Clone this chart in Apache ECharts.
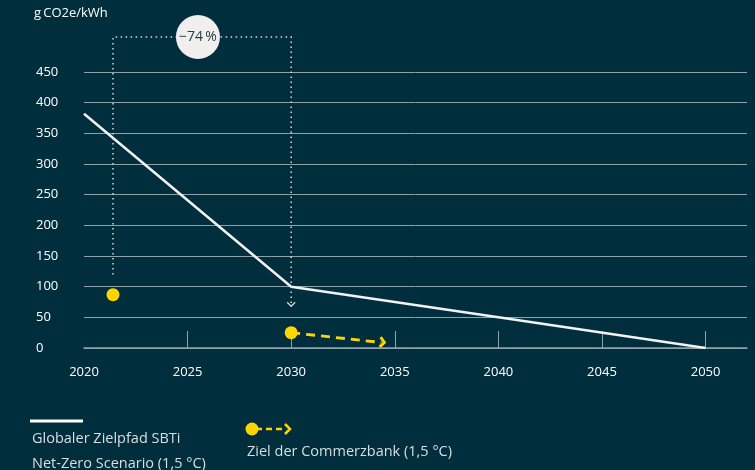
<!DOCTYPE html>
<html>
<head>
<meta charset="utf-8">
<script src="https://cdn.jsdelivr.net/npm/echarts@6/dist/echarts.min.js"></script>
<style>
html,body{margin:0;padding:0;background:#012e3d;}
#c{width:755px;height:470px;}
</style>
</head>
<body>
<div id="c"></div>
<script>
// ---- data ----
const pathYears = [2020, 2030, 2040, 2050];
const sbtiPath = [382, 100, 50, 0];
const targetYears = [2021.4, 2030];
const cbTargets = [87, 25];
const trendYears = [2030, 2034.5];
const trendValues = [25, 9];
const bracketYears = [2021.4, 2030];
const bracketBottom = [120, 68];
const bracketTop = 507;
const reductionYear = 2025.5;
const reductionLabel = '−74\u2009%';
const xLabelYears = [2020, 2025, 2030, 2035, 2040, 2045, 2050];
const xTickYears = [2025, 2030, 2035, 2040, 2045, 2050];
const unitLabel = 'g\u2009CO2e/kWh';
const legendLine1 = ['Globaler Zielpfad SBTi', 'Net-Zero Scenario (1,5 °C)'];
const legendLine2 = 'Ziel der Commerzbank (1,5 °C)';

const FONT = 'Open Sans';
const GRID = '#8fa2a9';
const YELLOW = '#ffd500';
const LEG = '#d9dfe1';

const chart = echarts.init(document.getElementById('c'), null, {renderer: 'canvas'});

const option = {
  backgroundColor: '#012e3d',
  animation: false,
  textStyle: {fontFamily: FONT},
  grid: {left: 84, right: 8, top: 72, bottom: 122},
  xAxis: {
    type: 'value', min: 2020, max: 2052, interval: 5,
    axisLine: {show: true, lineStyle: {color: GRID, width: 1.5}},
    axisTick: {show: true, inside: true, length: 17, customValues: xTickYears, lineStyle: {color: GRID, width: 1}},
    axisLabel: {customValues: xLabelYears, color: '#ffffff', fontSize: 13, margin: 18, fontFamily: FONT,
      formatter: function (v) { return String(v); }},
    splitLine: {show: false}
  },
  yAxis: {
    type: 'value', min: 0, max: 450, interval: 50,
    axisLine: {show: false}, axisTick: {show: false},
    axisLabel: {color: '#ffffff', fontSize: 13, align: 'left', margin: 48, fontFamily: FONT},
    splitLine: {show: true, lineStyle: {color: GRID, width: 1}}
  },
  graphic: [
    {type: 'text', left: 34, top: 7, style: {text: unitLabel, fill: '#ffffff', font: '13px "' + FONT + '"'}},
    {type: 'line', shape: {x1: 30, y1: 421, x2: 83, y2: 421}, style: {stroke: '#ffffff', lineWidth: 3}},
    {type: 'text', left: 32, top: 431, style: {text: legendLine1[0], fill: LEG, font: '14.5px "' + FONT + '"'}},
    {type: 'text', left: 32, top: 456, style: {text: legendLine1[1], fill: LEG, font: '14.5px "' + FONT + '"'}},
    {type: 'circle', shape: {cx: 252, cy: 429, r: 6.5}, style: {fill: YELLOW}},
    {type: 'line', shape: {x1: 256, y1: 429, x2: 283, y2: 429}, style: {stroke: YELLOW, lineWidth: 2.5, lineDash: [6, 4]}},
    {type: 'polyline', shape: {points: [[285, 424], [290, 429], [285, 434]]}, style: {stroke: YELLOW, lineWidth: 2.5, fill: null}},
    {type: 'text', left: 247, top: 444, style: {text: legendLine2, fill: LEG, font: '14.5px "' + FONT + '"'}}
  ],
  series: [
    {
      type: 'line', name: 'SBTi',
      data: pathYears.map((y, i) => [y, sbtiPath[i]]),
      symbol: 'none',
      lineStyle: {color: '#f2f2f2', width: 2.5},
      z: 3
    },
    {
      type: 'custom', name: 'trend',
      data: [[trendYears[0], trendValues[0]]],
      z: 4,
      renderItem: function (params, api) {
        const a = api.coord([trendYears[0], trendValues[0]]);
        const b = api.coord([trendYears[1], trendValues[1]]);
        const ang = Math.atan2(b[1] - a[1], b[0] - a[0]);
        const L = 6.5;
        const p1 = [b[0] - L * Math.cos(ang - 0.85), b[1] - L * Math.sin(ang - 0.85)];
        const p2 = [b[0] - L * Math.cos(ang + 0.85), b[1] - L * Math.sin(ang + 0.85)];
        return {type: 'group', children: [
          {type: 'line', shape: {x1: a[0], y1: a[1], x2: b[0] - 3, y2: b[1]}, style: {stroke: YELLOW, lineWidth: 2.8, lineDash: [9, 6]}},
          {type: 'polyline', shape: {points: [p1, b, p2]}, style: {stroke: YELLOW, lineWidth: 2.8, fill: null}}
        ]};
      }
    },
    {
      type: 'scatter', name: 'Ziel',
      data: targetYears.map((y, i) => [y, cbTargets[i]]),
      symbol: 'circle', symbolSize: 13,
      itemStyle: {color: YELLOW, opacity: 1},
      z: 5
    },
    {
      type: 'custom', name: 'bracket',
      data: [[reductionYear, bracketTop]],
      z: 6,
      renderItem: function (params, api) {
        const p1b = api.coord([bracketYears[0], bracketBottom[0]]);
        const p1t = api.coord([bracketYears[0], bracketTop]);
        const p2t = api.coord([bracketYears[1], bracketTop]);
        const p2b = api.coord([bracketYears[1], bracketBottom[1]]);
        const c = api.coord([reductionYear, bracketTop]);
        const dot = {stroke: '#d5dde0', lineWidth: 1.5, lineDash: [1.5, 3.5], fill: null};
        return {type: 'group', children: [
          {type: 'polyline', shape: {points: [p1b, p1t, p2t, p2b]}, style: dot},
          {type: 'polyline', shape: {points: [[p2b[0] - 4, p2b[1] - 4], [p2b[0], p2b[1]], [p2b[0] + 4, p2b[1] - 4]]}, style: {stroke: '#d5dde0', lineWidth: 1.2, fill: null}},
          {type: 'circle', shape: {cx: c[0], cy: c[1], r: 22}, style: {fill: '#f0efed'}},
          {type: 'text', style: {text: reductionLabel, x: c[0], y: c[1], align: 'center', verticalAlign: 'middle', fill: '#24404b', font: '500 14px "' + FONT + '"'}}
        ]};
      }
    }
  ]
};
chart.setOption(option);
</script>
</body>
</html>
